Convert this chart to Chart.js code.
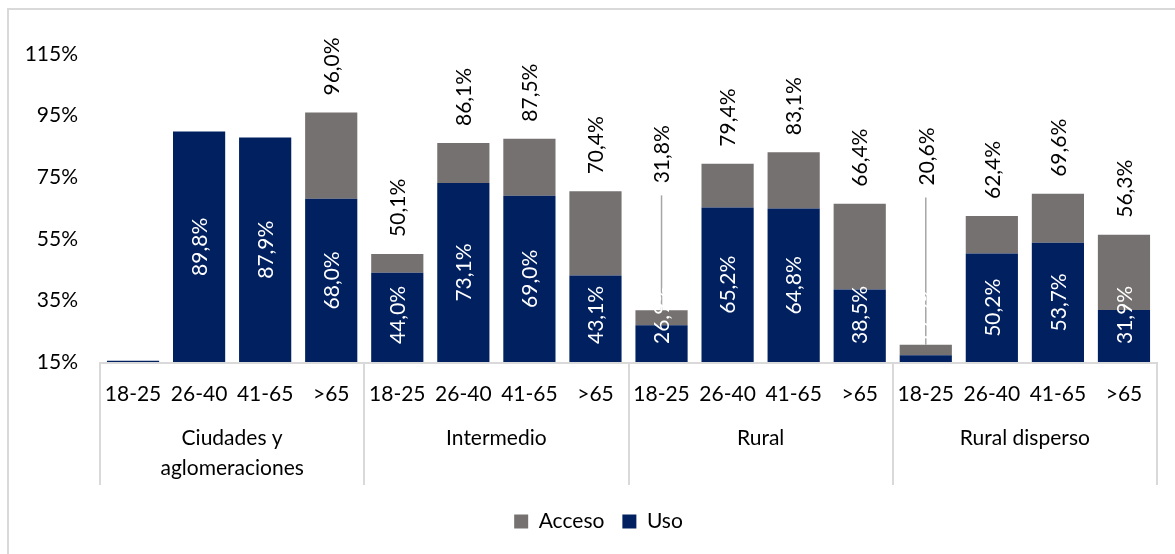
<!DOCTYPE html>
<html lang="es">
<head>
<meta charset="utf-8">
<title>Acceso y uso por edad y territorio</title>
<script src="https://cdn.jsdelivr.net/npm/chart.js@4"></script>
<style>
  html, body { margin: 0; padding: 0; background: #fff; }
  .wrap { position: relative; width: 1175px; height: 554px; }
  .frame { position: absolute; left: 7px; top: 8px; right: 0; bottom: 0;
           border-top: 2px solid #d9d9d9; border-left: 2px solid #d9d9d9; }
  canvas { position: absolute; left: 0; top: 0; }
</style>
</head>
<body>
<div class="wrap">
  <div class="frame"></div>
  <canvas id="chart" width="1175" height="554"></canvas>
</div>
<script>
/* acceso vs uso, stacked bars by age inside each territory */

const groups = [['Ciudades y', 'aglomeraciones'], 'Intermedio', 'Rural', 'Rural disperso'];
const ages = ['18-25', '26-40', '41-65', '>65'];
// uso (%), one per age x territory
const uso = [15.4, 89.8, 87.9, 68.0, 44.0, 73.1, 69.0, 43.1, 26.9, 65.2, 64.8, 38.5, 17.2, 50.2, 53.7, 31.9];
// acceso (%) = top of the stacked bar; null where no acceso value is shown
const acceso = [null, null, null, 96.0, 50.1, 86.1, 87.5, 70.4, 31.8, 79.4, 83.1, 66.4, 20.6, 62.4, 69.6, 56.3];
const yMin = 15, yMax = 115, yStep = 20;

const NAVY = '#002060';
const GRAY = '#767171';
const FONT = 'Lato, "Open Sans", sans-serif';
const FS = 21;
const SEP_DEPTH = 123; // separators run this far below the axis line
const fmt = (v) => v.toFixed(1).replace('.', ',') + '%';

const labels = groups.flatMap(() => ages);
const accesoExtra = acceso.map((t, i) => (t == null ? 0 : +(t - uso[i]).toFixed(1)));

// rotated value labels: white inside the uso segment, black total above the bar
const valueLabels = {
  id: 'valueLabels',
  afterDatasetsDraw(chart, args, opts) {
    const { ctx, chartArea } = chart;
    const x = chart.scales.x, y = chart.scales.y;
    ctx.save();
    ctx.font = `${FS}px ${FONT}`;
    ctx.textBaseline = 'middle';

    // leader lines for totals lifted away from short bars
    acceso.forEach((t, i) => {
      const lift = opts.leaders[i];
      if (t == null || lift == null) return;
      const px = x.getPixelForValue(i);
      ctx.strokeStyle = '#a6a6a6';
      ctx.lineWidth = 1.5;
      ctx.beginPath();
      ctx.moveTo(px, y.getPixelForValue(lift) + 12);
      ctx.lineTo(px, y.getPixelForValue(t));
      ctx.stroke();
    });

    uso.forEach((v, i) => {
      if (v - yMin < 1) return;
      const px = x.getPixelForValue(i);
      const top = y.getPixelForValue(v);
      const len = ctx.measureText(fmt(v)).width;
      const cy = Math.min((top + chartArea.bottom) / 2, chartArea.bottom - 18 - len / 2);
      ctx.save();
      ctx.translate(px, cy);
      ctx.rotate(-Math.PI / 2);
      ctx.textAlign = 'center';
      ctx.fillStyle = '#fff';
      ctx.fillText(fmt(v), 0, 1);
      ctx.restore();
    });

    acceso.forEach((t, i) => {
      if (t == null) return;
      const px = x.getPixelForValue(i);
      const lift = opts.leaders[i];
      const py = lift != null ? y.getPixelForValue(lift) : y.getPixelForValue(t) - 17;
      ctx.save();
      ctx.translate(px, py);
      ctx.rotate(-Math.PI / 2);
      ctx.textAlign = 'left';
      ctx.fillStyle = '#000';
      ctx.fillText(fmt(t), 0, 1);
      ctx.restore();
    });
    ctx.restore();
  }
};

// axis line and the territory separators under the plot
const groupLines = {
  id: 'groupLines',
  beforeDatasetsDraw(chart) {
    const { ctx, chartArea } = chart;
    const x = chart.scales.x;
    const step = (x.right - x.left) / labels.length;
    ctx.save();
    ctx.strokeStyle = '#d9d9d9';
    ctx.lineWidth = 2;
    ctx.beginPath();
    ctx.moveTo(x.left, chartArea.bottom + 1);
    ctx.lineTo(x.right, chartArea.bottom + 1);
    for (let g = 0; g <= groups.length; g++) {
      const px = Math.round(x.left + g * ages.length * step);
      ctx.moveTo(px, chartArea.bottom);
      ctx.lineTo(px, chartArea.bottom + SEP_DEPTH);
    }
    ctx.stroke();
    ctx.restore();
  }
};

Chart.defaults.font.family = FONT;
Chart.defaults.font.size = FS;
Chart.defaults.color = '#000';

new Chart(document.getElementById('chart'), {
  type: 'bar',
  data: {
    labels,
    datasets: [
      { label: 'Uso', data: uso, backgroundColor: NAVY },
      { label: 'Acceso', data: accesoExtra, backgroundColor: GRAY }
    ]
  },
  options: {
    responsive: false,
    animation: false,
    layout: { padding: { top: 54, right: 0, left: 22, bottom: 12 } },
    datasets: { bar: { barPercentage: 1, categoryPercentage: 0.79 } },
    scales: {
      x: {
        stacked: true,
        grid: { display: false, drawTicks: false },
        border: { display: false },
        ticks: { padding: 20, maxRotation: 0, autoSkip: false },
        afterFit: (s) => { s.height = 58; }
      },
      x2: {
        type: 'category',
        labels: groups,
        position: 'bottom',
        offset: true,
        grid: { display: false, drawTicks: false },
        border: { display: false },
        ticks: { padding: 3, maxRotation: 0, autoSkip: false, font: { size: FS, lineHeight: 1.43 } },
        afterFit: (s) => { s.height = 73; }
      },
      y: {
        stacked: true,
        min: yMin,
        max: yMax,
        grid: { display: false, drawTicks: false },
        border: { display: false },
        ticks: { stepSize: yStep, padding: 22, callback: (v) => v + '%' },
        afterFit: (s) => { s.width = 78; }
      },
      // empty right gutter
      yRight: {
        position: 'right',
        grid: { display: false, drawTicks: false },
        border: { display: false },
        ticks: { display: false },
        afterFit: (s) => { s.width = 18; }
      }
    },
    plugins: {
      legend: {
        position: 'bottom',
        reverse: true,
        labels: { boxWidth: 14, boxHeight: 14, padding: 18, font: { size: FS }, color: '#000' }
      },
      tooltip: { enabled: false },
      valueLabels: { leaders: { 8: 73.0, 12: 72.3 } }
    }
  },
  plugins: [valueLabels, groupLines]
});
</script>
</body>
</html>
